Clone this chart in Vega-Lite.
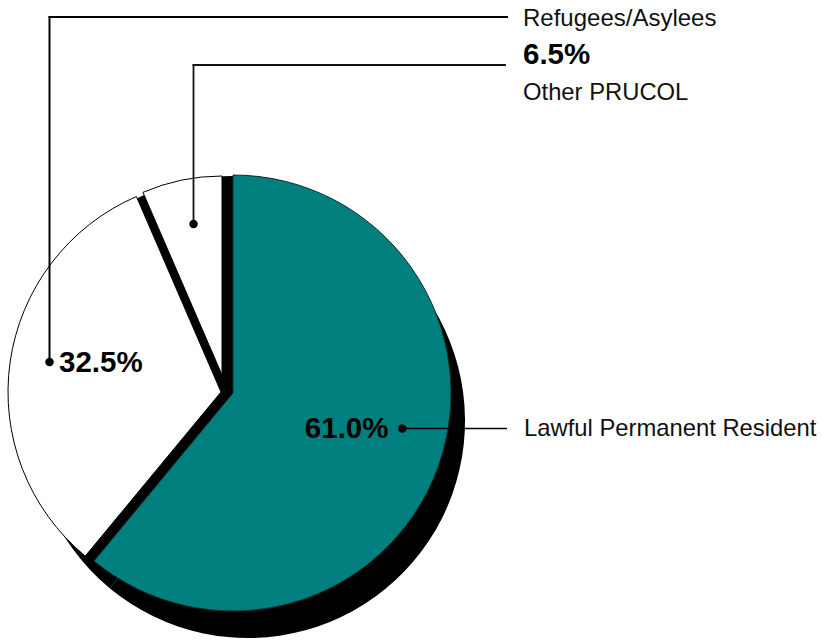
{
  "$schema": "https://vega.github.io/schema/vega-lite/v6.json",
  "width": 823,
  "height": 641,
  "autosize": {"type": "none"},
  "padding": 0,
  "background": "white",
  "config": {"view": {"stroke": null}},
  "data": {
    "values": [
      {"category": "Lawful Permanent Resident", "share": 0.61, "rank": 1},
      {"category": "Refugees/Asylees", "share": 0.325, "rank": 2},
      {"category": "Other PRUCOL", "share": 0.065, "rank": 3}
    ]
  },
  "layer": [
    {
      "mark": {"type": "arc", "outerRadius": 217, "xOffset": 15, "yOffset": 28, "fill": "black"},
      "encoding": {
        "theta": {"field": "share", "type": "quantitative", "stack": true},
        "order": {"field": "rank", "type": "quantitative"},
        "x": {"datum": 0, "type": "quantitative", "scale": {"domain": [-106.881, 270.642], "nice": false, "zero": false}, "axis": null},
        "y": {"datum": 0, "type": "quantitative", "scale": {"domain": [-113.761, 180.275], "nice": false, "zero": false}, "axis": null}
      }
    },
    {
      "mark": {"type": "arc", "outerRadius": 217, "fill": "black"},
      "encoding": {
        "theta": {"field": "share", "type": "quantitative", "stack": true},
        "order": {"field": "rank", "type": "quantitative"},
        "x": {"datum": 0, "type": "quantitative", "scale": {"domain": [-106.881, 270.642], "nice": false, "zero": false}, "axis": null},
        "y": {"datum": 0, "type": "quantitative", "scale": {"domain": [-113.761, 180.275], "nice": false, "zero": false}, "axis": null}
      }
    },
    {
      "mark": {"type": "arc", "outerRadius": 213, "xOffset": -12, "yOffset": -1, "fill": "white", "stroke": "black", "strokeWidth": 1},
      "encoding": {
        "theta": {"field": "share", "type": "quantitative", "stack": true},
        "order": {"field": "rank", "type": "quantitative"},
        "opacity": {"condition": {"test": "datum.category === 'Refugees/Asylees'", "value": 1}, "value": 0},
        "x": {"datum": 0, "type": "quantitative", "scale": {"domain": [-106.881, 270.642], "nice": false, "zero": false}, "axis": null},
        "y": {"datum": 0, "type": "quantitative", "scale": {"domain": [-113.761, 180.275], "nice": false, "zero": false}, "axis": null}
      }
    },
    {
      "mark": {"type": "arc", "outerRadius": 199, "xOffset": -11, "yOffset": -18, "fill": "white", "stroke": "black", "strokeWidth": 1},
      "encoding": {
        "theta": {"field": "share", "type": "quantitative", "stack": true},
        "order": {"field": "rank", "type": "quantitative"},
        "opacity": {"condition": {"test": "datum.category === 'Other PRUCOL'", "value": 1}, "value": 0},
        "x": {"datum": 0, "type": "quantitative", "scale": {"domain": [-106.881, 270.642], "nice": false, "zero": false}, "axis": null},
        "y": {"datum": 0, "type": "quantitative", "scale": {"domain": [-113.761, 180.275], "nice": false, "zero": false}, "axis": null}
      }
    },
    {
      "mark": {"type": "arc", "outerRadius": 218, "fill": "#007f7f", "stroke": "#0b2e2e", "strokeWidth": 1},
      "encoding": {
        "theta": {"field": "share", "type": "quantitative", "stack": true},
        "order": {"field": "rank", "type": "quantitative"},
        "opacity": {"condition": {"test": "datum.category === 'Lawful Permanent Resident'", "value": 1}, "value": 0},
        "x": {"datum": 0, "type": "quantitative", "scale": {"domain": [-106.881, 270.642], "nice": false, "zero": false}, "axis": null},
        "y": {"datum": 0, "type": "quantitative", "scale": {"domain": [-113.761, 180.275], "nice": false, "zero": false}, "axis": null}
      }
    },
    {
      "transform": [{"filter": "datum.category === 'Refugees/Asylees'"}],
      "mark": {"type": "rule", "color": "black", "strokeWidth": 2, "strokeCap": "square"},
      "encoding": {
        "x": {"datum": -84.17, "type": "quantitative"},
        "y": {"datum": 14.22, "type": "quantitative"},
        "y2": {"datum": 172.48}
      }
    },
    {
      "transform": [{"filter": "datum.category === 'Refugees/Asylees'"}],
      "mark": {"type": "rule", "color": "black", "strokeWidth": 2, "strokeCap": "square"},
      "encoding": {
        "x": {"datum": -84.17, "type": "quantitative"},
        "x2": {"datum": 125.69},
        "y": {"datum": 172.48, "type": "quantitative"}
      }
    },
    {
      "transform": [{"filter": "datum.category === 'Other PRUCOL'"}],
      "mark": {"type": "rule", "color": "#111111", "strokeWidth": 1.8, "strokeCap": "square"},
      "encoding": {
        "x": {"datum": -18.12, "type": "quantitative"},
        "y": {"datum": 77.52, "type": "quantitative"},
        "y2": {"datum": 150.46}
      }
    },
    {
      "transform": [{"filter": "datum.category === 'Other PRUCOL'"}],
      "mark": {"type": "rule", "color": "#111111", "strokeWidth": 1.8, "strokeCap": "square"},
      "encoding": {
        "x": {"datum": -18.12, "type": "quantitative"},
        "x2": {"datum": 124.77},
        "y": {"datum": 150.46, "type": "quantitative"}
      }
    },
    {
      "transform": [{"filter": "datum.category === 'Lawful Permanent Resident'"}],
      "mark": {"type": "rule", "color": "black", "strokeWidth": 1.3},
      "encoding": {
        "x": {"datum": 77.66, "type": "quantitative"},
        "x2": {"datum": 125.69},
        "y": {"datum": -16.28, "type": "quantitative"}
      }
    },
    {
      "transform": [{"filter": "datum.category === 'Refugees/Asylees'"}],
      "mark": {"type": "circle", "color": "black", "size": 72, "opacity": 1},
      "encoding": {
        "x": {"datum": -84.17, "type": "quantitative"},
        "y": {"datum": 14.22, "type": "quantitative"}
      }
    },
    {
      "transform": [{"filter": "datum.category === 'Other PRUCOL'"}],
      "mark": {"type": "circle", "color": "black", "size": 72, "opacity": 1},
      "encoding": {
        "x": {"datum": -18.12, "type": "quantitative"},
        "y": {"datum": 77.52, "type": "quantitative"}
      }
    },
    {
      "transform": [{"filter": "datum.category === 'Lawful Permanent Resident'"}],
      "mark": {"type": "circle", "color": "black", "size": 72, "opacity": 1},
      "encoding": {
        "x": {"datum": 77.66, "type": "quantitative"},
        "y": {"datum": -16.28, "type": "quantitative"}
      }
    },
    {
      "transform": [{"filter": "datum.category === 'Refugees/Asylees'"}],
      "mark": {"type": "text", "font": "Liberation Sans", "fontSize": 24, "align": "left", "baseline": "alphabetic", "color": "#111111"},
      "encoding": {
        "text": {"field": "category"},
        "x": {"datum": 133.03, "type": "quantitative"},
        "y": {"datum": 168.12, "type": "quantitative"}
      }
    },
    {
      "transform": [{"filter": "datum.category === 'Other PRUCOL'"}],
      "mark": {"type": "text", "font": "Liberation Sans", "fontSize": 29.5, "fontWeight": "bold", "align": "left", "baseline": "alphabetic", "color": "black"},
      "encoding": {
        "text": {"field": "share", "type": "quantitative", "format": ".1%"},
        "x": {"datum": 133.03, "type": "quantitative"},
        "y": {"datum": 150.69, "type": "quantitative"}
      }
    },
    {
      "transform": [{"filter": "datum.category === 'Other PRUCOL'"}],
      "mark": {"type": "text", "font": "Liberation Sans", "fontSize": 23.8, "align": "left", "baseline": "alphabetic", "color": "#111111"},
      "encoding": {
        "text": {"field": "category"},
        "x": {"datum": 133.03, "type": "quantitative"},
        "y": {"datum": 134.63, "type": "quantitative"}
      }
    },
    {
      "transform": [{"filter": "datum.category === 'Lawful Permanent Resident'"}],
      "mark": {"type": "text", "font": "Liberation Sans", "fontSize": 23.8, "align": "left", "baseline": "alphabetic", "color": "#111111"},
      "encoding": {
        "text": {"field": "category"},
        "x": {"datum": 133.49, "type": "quantitative"},
        "y": {"datum": -19.5, "type": "quantitative"}
      }
    },
    {
      "transform": [{"filter": "datum.category === 'Lawful Permanent Resident'"}],
      "mark": {"type": "text", "font": "Liberation Sans", "fontSize": 29.5, "fontWeight": "bold", "align": "right", "baseline": "alphabetic", "color": "black"},
      "encoding": {
        "text": {"field": "share", "type": "quantitative", "format": ".1%"},
        "x": {"datum": 71.33, "type": "quantitative"},
        "y": {"datum": -20.87, "type": "quantitative"}
      }
    },
    {
      "transform": [{"filter": "datum.category === 'Refugees/Asylees'"}],
      "mark": {"type": "text", "font": "Liberation Sans", "fontSize": 29.5, "fontWeight": "bold", "align": "left", "baseline": "alphabetic", "color": "black"},
      "encoding": {
        "text": {"field": "share", "type": "quantitative", "format": ".1%"},
        "x": {"datum": -79.82, "type": "quantitative"},
        "y": {"datum": 9.63, "type": "quantitative"}
      }
    }
  ]
}
